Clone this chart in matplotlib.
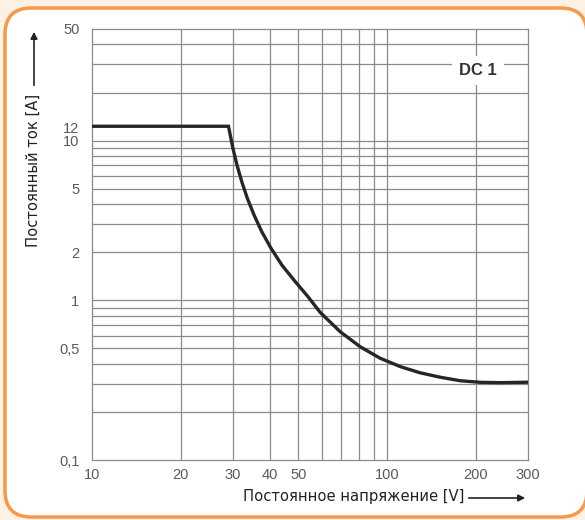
import matplotlib.pyplot as plt
import numpy as np
from matplotlib.patches import FancyBboxPatch
from matplotlib.ticker import FixedLocator, NullFormatter

# Данные кривой DC1
voltage = [10, 29, 30.0, 31, 32.2, 33.6, 35.4, 37.6, 40.4, 44.0, 48.8, 54, 59.3,
           69.3, 81, 94.6, 111, 129, 151, 177, 207, 242, 300]
current = [12.3, 12.3, 9.0, 7.0, 5.5, 4.35, 3.42, 2.69, 2.12, 1.66, 1.31, 1.05, 0.84,
           0.636, 0.512, 0.434, 0.384, 0.352, 0.33, 0.3135, 0.3065, 0.305, 0.307]

x_ticks = [10, 20, 30, 40, 50, 100, 200, 300]
x_labels = ['10', '20', '30', '40', '50', '100', '200', '300']
x_grid = [20, 30, 40, 50, 60, 70, 80, 90, 100, 200]
y_ticks = [0.1, 0.5, 1, 2, 5, 10, 12, 50]
y_labels = ['0,1', '0,5', '1', '2', '5', '10', '12', '50']
y_grid = [0.2, 0.3, 0.4, 0.5, 0.6, 0.7, 0.8, 0.9, 1, 2, 3, 4, 5, 6, 7, 8, 9, 10, 20, 30, 40]

W, H = 585, 520
fig = plt.figure(figsize=(W / 100, H / 100), dpi=100)
fig.patch.set_facecolor('#fdf0e5')

# рамка
box = FancyBboxPatch((5 / W, 3 / H), 582 / W, 509 / H,
                     boxstyle='round,pad=0,rounding_size=0.045',
                     transform=fig.transFigure, facecolor='white',
                     edgecolor='#f7984a', linewidth=2.5, zorder=-5,
                     mutation_aspect=W / H)
fig.patches.append(box)

ax = fig.add_axes([92 / W, 60 / H, 436 / W, 431 / H])
ax.set_xscale('log')
ax.set_yscale('log')
ax.set_xlim(10, 300)
ax.set_ylim(0.1, 50)
ax.set_facecolor('white')

grid_col = '#8a8a8a'
ax.xaxis.remove_overlapping_locs = False
ax.yaxis.remove_overlapping_locs = False
ax.xaxis.set_major_locator(FixedLocator(x_ticks))
ax.xaxis.set_ticklabels(x_labels)
ax.xaxis.set_minor_locator(FixedLocator(x_grid))
ax.xaxis.set_minor_formatter(NullFormatter())
ax.yaxis.set_major_locator(FixedLocator(y_ticks))
ax.yaxis.set_ticklabels(y_labels)
ax.yaxis.set_minor_locator(FixedLocator(y_grid))
ax.yaxis.set_minor_formatter(NullFormatter())
ax.tick_params(which='both', length=0, labelsize=10.5, labelcolor='#5a5a5a',
               labelfontfamily='Liberation Sans')
ax.tick_params(axis='y', pad=9)
ax.tick_params(axis='x', pad=6)
ax.grid(which='minor', color=grid_col, linewidth=0.9)
ax.grid(which='major', visible=False)
for s in ax.spines.values():
    s.set_color(grid_col)
    s.set_linewidth(0.9)

ax.plot(voltage, current, color='#262626', linewidth=2.4, solid_joinstyle='miter', zorder=3)

ax.text(203, 27.3, 'DC 1', ha='center', va='center', fontsize=12,
        fontweight='bold', color='#333333', family='Liberation Sans',
        bbox=dict(facecolor='white', edgecolor='none', pad=5), zorder=4)

lab_font = dict(family=['Liberation Sans Narrow', 'DejaVu Sans'], fontstretch='condensed',
                fontsize=11.8, color='#222222')
fig.text(33 / W, 1 - 170 / H, 'Постоянный ток [A]', rotation=90,
         ha='center', va='center', **lab_font)
fig.text(354 / W, 1 - 497 / H, 'Постоянное напряжение [V]',
         ha='center', va='center', **lab_font)

ax.annotate('', xy=(34 / W, 1 - 29 / H), xytext=(34 / W, 1 - 88 / H),
            xycoords='figure fraction', textcoords='figure fraction',
            arrowprops=dict(arrowstyle='-|>', color='#222222', lw=1.2, mutation_scale=10),
            annotation_clip=False)
ax.annotate('', xy=(528 / W, 1 - 498 / H), xytext=(466 / W, 1 - 498 / H),
            xycoords='figure fraction', textcoords='figure fraction',
            arrowprops=dict(arrowstyle='-|>', color='#222222', lw=1.2, mutation_scale=10),
            annotation_clip=False)

fig.savefig('out.png', dpi=100, facecolor=fig.get_facecolor())
